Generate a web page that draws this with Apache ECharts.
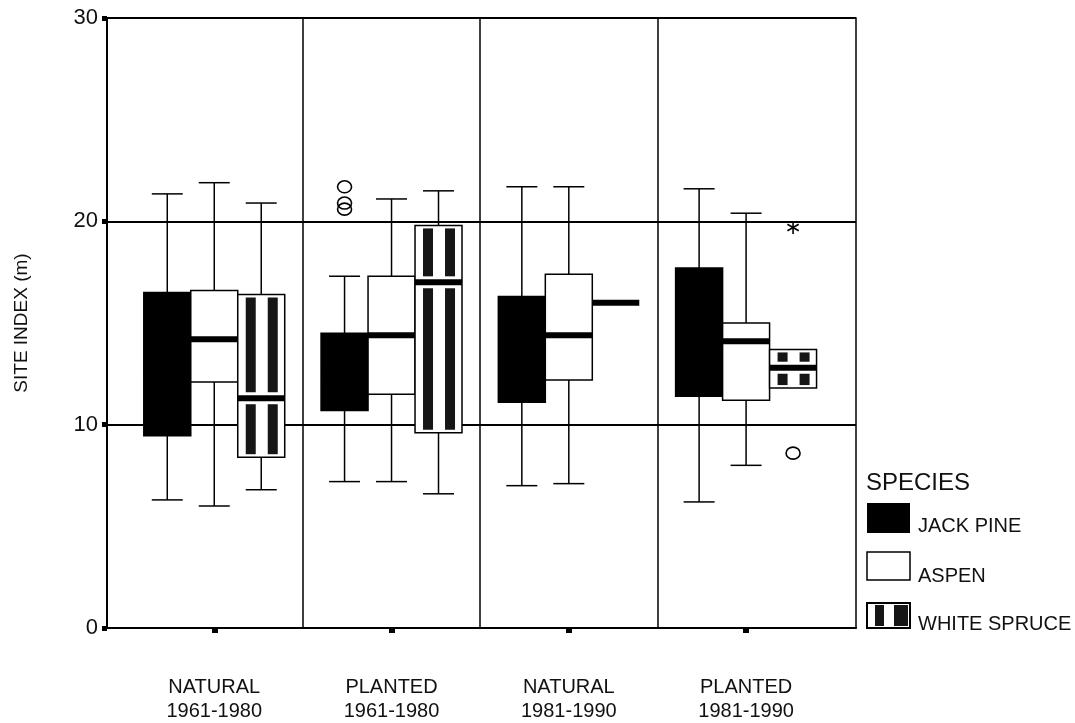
<!DOCTYPE html>
<html>
<head>
<meta charset="utf-8">
<script src="https://cdn.jsdelivr.net/npm/echarts@6/dist/echarts.min.js"></script>
<style>html,body{margin:0;padding:0;background:#fff;}#c{width:1075px;height:723px;}</style>
</head>
<body>
<div id="c"></div>
<script>
// ---- data ----
const categories = ['NATURAL\n1961-1980', 'PLANTED\n1961-1980', 'NATURAL\n1981-1990', 'PLANTED\n1981-1990'];
const speciesNames = ['JACK PINE', 'ASPEN', 'WHITE SPRUCE'];
// [min, Q1, median, Q3, max] per category
const jackPine = [
  [6.3, 9.45, 12.8, 16.5, 21.35],
  [7.2, 10.7, 12.5, 14.5, 17.3],
  [7.0, 11.1, 13.8, 16.3, 21.7],
  [6.2, 11.4, 14.5, 17.7, 21.6]
];
const aspen = [
  [6.0, 12.1, 14.2, 16.6, 21.9],
  [7.2, 11.5, 14.4, 17.3, 21.1],
  [7.1, 12.2, 14.4, 17.4, 21.7],
  [8.0, 11.2, 14.1, 15.0, 20.4]
];
const whiteSpruce = [
  [6.8, 8.4, 11.3, 16.4, 20.9],
  [6.6, 9.6, 17.0, 19.8, 21.5],
  [16.0, 16.0, 16.0, 16.0, 16.0],
  [11.8, 11.8, 12.8, 13.7, 13.7]
];
// outliers: [categoryIndex, speciesIndex, value]
const outliers = [[1, 0, 21.7], [1, 0, 20.9], [1, 0, 20.6], [3, 2, 8.6]];
const extremes = [[3, 2, 19.7]];
const yTicks = [0, 10, 20, 30];

// ---- layout constants ----
const FONT = "'Liberation Sans', Arial, sans-serif";
const BOXW = 0.265;
const offsets = [-BOXW, 0, BOXW];
const GL = 107, GT = 18, GW = 749, GH = 610;
const XMIN = -0.605, XMAX = 3.62;
const unitPx = GW / (XMAX - XMIN);

function makeRender(sIdx) {
  return function (params, api) {
    const cat = api.value(0);
    const v = [1, 2, 3, 4, 5].map(i => api.value(i));
    const cx = cat + offsets[sIdx];
    const pL = api.coord([cx - BOXW / 2, v[4]]);
    const pR = api.coord([cx + BOXW / 2, v[4]]);
    const xL = pL[0], xR = pR[0], xc = (xL + xR) / 2, w = xR - xL;
    const yMax = pL[1];
    const yMin = api.coord([cx, v[0]])[1];
    const yQ1 = api.coord([cx, v[1]])[1];
    const yMed = api.coord([cx, v[2]])[1];
    const yQ3 = api.coord([cx, v[3]])[1];
    const st = { stroke: '#000', lineWidth: 1.5 };
    const ch = [];
    const cap = 15.5;
    if (yMax < yQ3 - 0.5) {
      ch.push({ type: 'line', shape: { x1: xc, y1: yMax, x2: xc, y2: yQ3 }, style: st });
      ch.push({ type: 'line', shape: { x1: xc - cap, y1: yMax, x2: xc + cap, y2: yMax }, style: st });
    }
    if (yMin > yQ1 + 0.5) {
      ch.push({ type: 'line', shape: { x1: xc, y1: yQ1, x2: xc, y2: yMin }, style: st });
      ch.push({ type: 'line', shape: { x1: xc - cap, y1: yMin, x2: xc + cap, y2: yMin }, style: st });
    }
    if (yQ1 - yQ3 > 1) {
      ch.push({ type: 'rect', shape: { x: xL, y: yQ3, width: w, height: yQ1 - yQ3 },
        style: { fill: sIdx === 0 ? '#000' : '#fff', stroke: '#000', lineWidth: 1.5 } });
      if (sIdx === 2) {
        const bars = [[8, 10], [30, 10]];
        const segs = [[yQ3 + 3, yMed - 6], [yMed + 6, yQ1 - 3]];
        bars.forEach(b => segs.forEach(s => {
          if (s[1] - s[0] > 1) {
            ch.push({ type: 'rect', shape: { x: xL + b[0], y: s[0], width: b[1], height: s[1] - s[0] },
              style: { fill: '#161616' } });
          }
        }));
      }
    }
    ch.push({ type: 'rect', shape: { x: xL, y: yMed - 3, width: w, height: 6 }, style: { fill: '#000' } });
    return { type: 'group', children: ch };
  };
}

function boxData(arr) { return arr.map((d, i) => [i].concat(d)); }

const pointData = outliers.map(o => [o[0] + offsets[o[1]], o[2]]);
const starData = extremes.map(o => [o[0] + offsets[o[1]], o[2]]);

const series = [jackPine, aspen, whiteSpruce].map((arr, s) => ({
  name: speciesNames[s],
  type: 'custom',
  xAxisIndex: 0, yAxisIndex: 0,
  renderItem: makeRender(s),
  encode: { x: 0, y: [1, 2, 3, 4, 5] },
  data: boxData(arr),
  z: 5,
  silent: true
}));
series[0].markLine = {
  silent: true, symbol: 'none', label: { show: false },
  lineStyle: { color: '#000', width: 1.5, type: 'solid' },
  data: [{ xAxis: 0.5 }, { xAxis: 1.5 }, { xAxis: 2.5 }]
};
series.push({
  type: 'custom', xAxisIndex: 0, yAxisIndex: 0, z: 6, silent: true,
  encode: { x: 0, y: 1 },
  data: pointData,
  renderItem: function (params, api) {
    const p = api.coord([api.value(0), api.value(1)]);
    return { type: 'ellipse', shape: { cx: p[0], cy: p[1], rx: 7, ry: 6 },
      style: { fill: 'rgba(255,255,255,0)', stroke: '#000', lineWidth: 1.6 } };
  }
});
series.push({
  type: 'custom', xAxisIndex: 0, yAxisIndex: 0, z: 6, silent: true,
  encode: { x: 0, y: 1 },
  data: starData,
  renderItem: function (params, api) {
    const p = api.coord([api.value(0), api.value(1)]);
    const r = 6.5, st = { stroke: '#000', lineWidth: 1.6 };
    return { type: 'group', children: [
      { type: 'line', shape: { x1: p[0], y1: p[1] - r, x2: p[0], y2: p[1] + r }, style: st },
      { type: 'line', shape: { x1: p[0] - r * 0.87, y1: p[1] - r * 0.5, x2: p[0] + r * 0.87, y2: p[1] + r * 0.5 }, style: st },
      { type: 'line', shape: { x1: p[0] - r * 0.87, y1: p[1] + r * 0.5, x2: p[0] + r * 0.87, y2: p[1] - r * 0.5 }, style: st }
    ] };
  }
});

const catLeft = GL + (0 - 0.5 - XMIN) * unitPx;
const catRight = GL + (3 + 0.5 - XMIN) * unitPx;

const sw = { x: 867, w: 43 };
const option = {
  backgroundColor: '#fff',
  animation: false,
  grid: [
    { left: GL, top: GT, width: GW, height: GH, show: true, borderColor: '#000', borderWidth: 1.5, backgroundColor: 'transparent' },
    { left: catLeft, top: GT, width: catRight - catLeft, height: GH, show: false }
  ],
  xAxis: [
    { type: 'value', gridIndex: 0, min: XMIN, max: XMAX,
      axisLine: { show: true, onZero: false, lineStyle: { color: '#000', width: 2 } },
      axisTick: { show: false }, axisLabel: { show: false }, splitLine: { show: false } },
    { type: 'category', gridIndex: 1, data: categories, boundaryGap: true,
      axisLine: { show: false },
      axisTick: { show: true, alignWithLabel: true, length: 6, lineStyle: { color: '#000', width: 6 } },
      axisLabel: { show: true, interval: 0, margin: 48, fontFamily: FONT, fontSize: 20, lineHeight: 24, color: '#111' },
      splitLine: { show: false } }
  ],
  yAxis: [
    { type: 'value', gridIndex: 0, min: 0, max: 30, interval: 10,
      name: 'SITE INDEX (m)', nameLocation: 'middle', nameGap: 76, nameRotate: 90,
      nameTextStyle: { fontFamily: FONT, fontSize: 19, color: '#111' },
      axisLine: { show: true, onZero: false, lineStyle: { color: '#000', width: 2 } },
      axisTick: { show: true, length: 5, lineStyle: { color: '#000', width: 5 } },
      axisLabel: { show: true, margin: 9, fontFamily: FONT, fontSize: 22, color: '#111',
        formatter: v => (yTicks.indexOf(v) >= 0 ? String(v) : '') },
      splitLine: { show: true, lineStyle: { color: '#000', width: 2 } } },
    { type: 'value', gridIndex: 1, min: 0, max: 30, show: false }
  ],
  graphic: [
    { type: 'text', left: 866, top: 471, style: { text: 'SPECIES', font: '24px ' + FONT, fill: '#111' } },
    { type: 'rect', shape: { x: sw.x, y: 503, width: sw.w, height: 30 }, style: { fill: '#000' } },
    { type: 'text', x: 918, y: 526, style: { text: speciesNames[0], font: '20px ' + FONT, fill: '#111', verticalAlign: 'middle' } },
    { type: 'rect', shape: { x: sw.x, y: 552, width: sw.w, height: 28 }, style: { fill: '#fff', stroke: '#000', lineWidth: 1.5 } },
    { type: 'text', x: 918, y: 576, style: { text: speciesNames[1], font: '20px ' + FONT, fill: '#111', verticalAlign: 'middle' } },
    { type: 'rect', shape: { x: sw.x, y: 603, width: sw.w, height: 25 }, style: { fill: '#fff', stroke: '#000', lineWidth: 2 } },
    { type: 'rect', shape: { x: sw.x + 8, y: 605, width: 9, height: 21 }, style: { fill: '#161616' } },
    { type: 'rect', shape: { x: sw.x + 27, y: 605, width: 14, height: 21 }, style: { fill: '#161616' } },
    { type: 'text', x: 918, y: 624, style: { text: speciesNames[2], font: '20px ' + FONT, fill: '#111', verticalAlign: 'middle' } }
  ],
  series: series
};

const chart = echarts.init(document.getElementById('c'), null, { renderer: 'canvas' });
chart.setOption(option);
</script>
</body>
</html>
